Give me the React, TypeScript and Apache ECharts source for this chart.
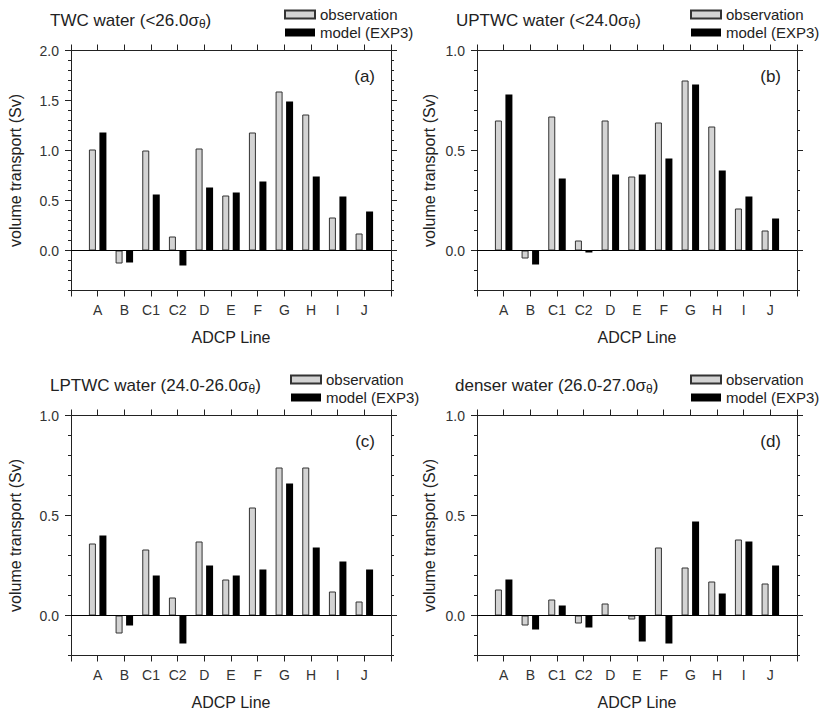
import React, { useEffect, useRef } from 'react';
import * as echarts from 'echarts';

// ---- data ----
const categories = ['', 'A', 'B', 'C1', 'C2', 'D', 'E', 'F', 'G', 'H', 'I', 'J', ''];

const twcObs = [1.01, -0.13, 1.0, 0.14, 1.02, 0.55, 1.18, 1.59, 1.36, 0.33, 0.17];
const twcModel = [1.18, -0.12, 0.56, -0.15, 0.63, 0.58, 0.69, 1.49, 0.74, 0.54, 0.39];
const uptwcObs = [0.65, -0.04, 0.67, 0.05, 0.65, 0.37, 0.64, 0.85, 0.62, 0.21, 0.1];
const uptwcModel = [0.78, -0.07, 0.36, -0.01, 0.38, 0.38, 0.46, 0.83, 0.4, 0.27, 0.16];
const lptwcObs = [0.36, -0.09, 0.33, 0.09, 0.37, 0.18, 0.54, 0.74, 0.74, 0.12, 0.07];
const lptwcModel = [0.4, -0.05, 0.2, -0.14, 0.25, 0.2, 0.23, 0.66, 0.34, 0.27, 0.23];
const denserObs = [0.13, -0.05, 0.08, -0.04, 0.06, -0.02, 0.34, 0.24, 0.17, 0.38, 0.16];
const denserModel = [0.18, -0.07, 0.05, -0.06, 0.0, -0.13, -0.14, 0.47, 0.11, 0.37, 0.25];

const majorTicksA = [0, 0.5, 1.0, 1.5, 2.0];
const majorTicksB = [0, 0.5, 1.0];

const seriesNames = ['observation', 'model (EXP3)'];
const xName = 'ADCP Line';
const yName = 'volume transport (Sv)';

const FONT = '"Liberation Sans", Arial, Helvetica, sans-serif';
const INK = '#222';

const panels = [
  { title: ['TWC water (<26.0σ', 'θ', ')'], tag: '(a)', obs: twcObs, model: twcModel, min: -0.4, max: 2.0, majors: majorTicksA,
    left: 71, top: 50.5, titleX: 50, titleY: 10, legendX: 284, legendY: 7, nameGap: 48 },
  { title: ['UPTWC water (<24.0σ', 'θ', ')'], tag: '(b)', obs: uptwcObs, model: uptwcModel, min: -0.2, max: 1.0, majors: majorTicksB,
    left: 477, top: 50.5, titleX: 456, titleY: 10, legendX: 690, legendY: 7, nameGap: 40 },
  { title: ['LPTWC water (24.0-26.0σ', 'θ', ')'], tag: '(c)', obs: lptwcObs, model: lptwcModel, min: -0.2, max: 1.0, majors: majorTicksB,
    left: 71, top: 415.5, titleX: 50, titleY: 375, legendX: 290, legendY: 372, nameGap: 48 },
  { title: ['denser water (26.0-27.0σ', 'θ', ')'], tag: '(d)', obs: denserObs, model: denserModel, min: -0.2, max: 1.0, majors: majorTicksB,
    left: 477, top: 415.5, titleX: 455, titleY: 375, legendX: 690, legendY: 372, nameGap: 40 },
];

const pad = (arr: number[]) => ['-', ...arr, '-'];

export default function App() {
  const ref = useRef<HTMLDivElement>(null);

  useEffect(() => {
    document.body.style.margin = '0';
    if (!ref.current) return;
    const chart = echarts.init(ref.current, undefined, { renderer: 'svg' });

    const W = 320;
    const H = 240;
    const axisLineStyle = { color: '#222', width: 1 };

    const grid: any[] = [];
    const xAxis: any[] = [];
    const yAxis: any[] = [];
    const series: any[] = [];
    const title: any[] = [];
    const legend: any[] = [];
    const graphic: any[] = [];

    panels.forEach((p, i) => {
      grid.push({ left: p.left, top: p.top, width: W, height: H, containLabel: false });

      const xBase = {
        type: 'category',
        gridIndex: i,
        data: categories,
        boundaryGap: false,
        axisLine: { show: true, onZero: false, lineStyle: axisLineStyle },
        axisTick: { show: true, interval: 0, length: 6, lineStyle: axisLineStyle },
        splitLine: { show: false },
      };
      xAxis.push({
        ...xBase,
        position: 'bottom',
        axisLabel: { interval: 0, fontSize: 14, color: '#333', margin: 12, fontFamily: FONT },
        name: xName,
        nameLocation: 'middle',
        nameGap: 39,
        nameTextStyle: { fontSize: 16, color: INK, fontFamily: FONT },
      });
      xAxis.push({ ...xBase, position: 'top', axisLabel: { show: false } });

      const yBase = {
        type: 'value',
        gridIndex: i,
        min: p.min,
        max: p.max,
        splitLine: { show: false },
      };
      yAxis.push({
        ...yBase,
        position: 'left',
        axisLine: { show: true, onZero: false, lineStyle: axisLineStyle },
        axisTick: { show: true, length: 6, customValues: p.majors, lineStyle: axisLineStyle },
        axisLabel: {
          customValues: p.majors,
          formatter: (v: number) => v.toFixed(1),
          fontSize: 14,
          color: '#333',
          margin: 12,
          fontFamily: FONT,
        },
        name: yName,
        nameLocation: 'middle',
        nameGap: p.nameGap,
        nameTextStyle: { fontSize: 16, color: INK, fontFamily: FONT },
      });
      yAxis.push({
        ...yBase,
        position: 'left',
        interval: 0.1,
        axisLine: { show: false, onZero: false },
        axisTick: { show: true, length: 3, lineStyle: axisLineStyle },
        axisLabel: { show: false },
      });
      yAxis.push({
        ...yBase,
        position: 'right',
        axisLine: { show: true, onZero: false, lineStyle: axisLineStyle },
        axisTick: { show: true, length: 6, customValues: p.majors, lineStyle: axisLineStyle },
        axisLabel: { show: false },
      });
      yAxis.push({
        ...yBase,
        position: 'right',
        interval: 0.1,
        axisLine: { show: false, onZero: false },
        axisTick: { show: true, length: 3, lineStyle: axisLineStyle },
        axisLabel: { show: false },
      });

      series.push({
        name: seriesNames[0],
        type: 'bar',
        xAxisIndex: i * 2,
        yAxisIndex: i * 4,
        data: pad(p.obs),
        barWidth: 7,
        barGap: '50%',
        itemStyle: { color: '#d3d3d3', borderColor: '#333', borderWidth: 1 },
        markLine: {
          silent: true,
          symbol: 'none',
          label: { show: false },
          lineStyle: { color: '#000', width: 1, type: 'solid' },
          data: [{ yAxis: 0 }],
        },
      });
      series.push({
        name: seriesNames[1],
        type: 'bar',
        xAxisIndex: i * 2,
        yAxisIndex: i * 4,
        data: pad(p.model),
        barWidth: 7,
        barGap: '50%',
        itemStyle: { color: '#000' },
      });

      title.push({
        text: `{t|${p.title[0]}}{s|${p.title[1]}}{t|${p.title[2]}}`,
        left: p.titleX,
        top: p.titleY,
        padding: 0,
        textStyle: {
          fontWeight: 'normal',
          rich: {
            t: { fontSize: 17, fontWeight: 'normal', lineHeight: 20, color: INK, fontFamily: FONT },
            s: { fontSize: 12, fontWeight: 'normal', lineHeight: 11, verticalAlign: 'bottom', color: INK, fontFamily: FONT },
          },
        },
      });

      legend.push({
        data: seriesNames,
        orient: 'vertical',
        left: p.legendX,
        top: p.legendY,
        padding: 0,
        itemWidth: 30,
        itemHeight: 8,
        itemGap: 3,
        icon: 'rect',
        selectedMode: false,
        textStyle: { fontSize: 15, color: INK, fontFamily: FONT },
      });

      graphic.push({
        type: 'text',
        x: p.left + W - 16,
        y: p.top + 26,
        style: {
          text: p.tag,
          fontSize: 17,
          fontFamily: FONT,
          fill: INK,
          align: 'right',
          textAlign: 'right',
          verticalAlign: 'middle',
          textVerticalAlign: 'middle',
        },
      });
    });

    chart.setOption({
      animation: false,
      backgroundColor: '#fff',
      textStyle: { fontFamily: FONT },
      grid,
      xAxis,
      yAxis,
      series,
      title,
      legend,
      graphic,
    });

    return () => chart.dispose();
  }, []);

  return <div ref={ref} style={{ width: 830, height: 713 }} />;
}
